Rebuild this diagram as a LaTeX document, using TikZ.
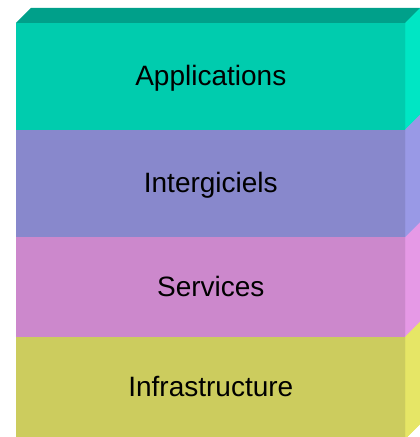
\documentclass[tikz,border=0pt]{standalone}
\usepackage{fontspec}
\setmainfont{Liberation Sans}
\usetikzlibrary{positioning}
\definecolor{appfront}{RGB}{0,204,174}
\definecolor{apptop}{RGB}{0,160,138}
\definecolor{appside}{RGB}{0,230,196}
\definecolor{midfront}{RGB}{136,136,204}
\definecolor{midside}{RGB}{153,153,230}
\definecolor{svcfront}{RGB}{204,136,204}
\definecolor{svcside}{RGB}{230,153,230}
\definecolor{infrafront}{RGB}{204,204,94}
\definecolor{infraside}{RGB}{230,230,102}
\begin{document}
\begin{tikzpicture}[x=1pt, y=1pt,
        layer/.style={rectangle, inner sep=0pt, minimum width=389pt, line width=0.6pt, text depth=2pt, font=\fontsize{28}{32}\selectfont}]
            \useasboundingbox (0,0) rectangle (420,437);

            \node[layer, fill=appfront, draw=appfront, minimum height=106pt, anchor=north west] (app) at (16, 414) {Applications};
            \node[layer, fill=midfront, draw=midfront, minimum height=107pt, below=0pt of app] (mid) {Intergiciels};
            \node[layer, fill=svcfront, draw=svcfront, minimum height=99pt, below=0pt of mid] (svc) {Services};
            \node[layer, fill=infrafront, draw=infrafront, minimum height=101pt, below=0pt of svc] (infra) {Infrastructure};

            \fill[apptop] (app.north west) -- ++(15, 15) -- ([shift={(15,15)}]app.north east) -- (app.north east) -- cycle;

            \filldraw[appside, line width=0.6pt] (app.north east) -- ++(15, 15) -- ([shift={(15,15)}]app.south east) -- (app.south east) -- cycle;
            \filldraw[midside, line width=0.6pt] (mid.north east) -- ++(15, 15) -- ([shift={(15,15)}]mid.south east) -- (mid.south east) -- cycle;
            \filldraw[svcside, line width=0.6pt] (svc.north east) -- ++(15, 15) -- ([shift={(15,15)}]svc.south east) -- (svc.south east) -- cycle;
            \filldraw[infraside, line width=0.6pt] (infra.north east) -- ++(15, 15) -- ([shift={(15,15)}]infra.south east) -- (infra.south east) -- cycle;
        \end{tikzpicture}
\end{document}
